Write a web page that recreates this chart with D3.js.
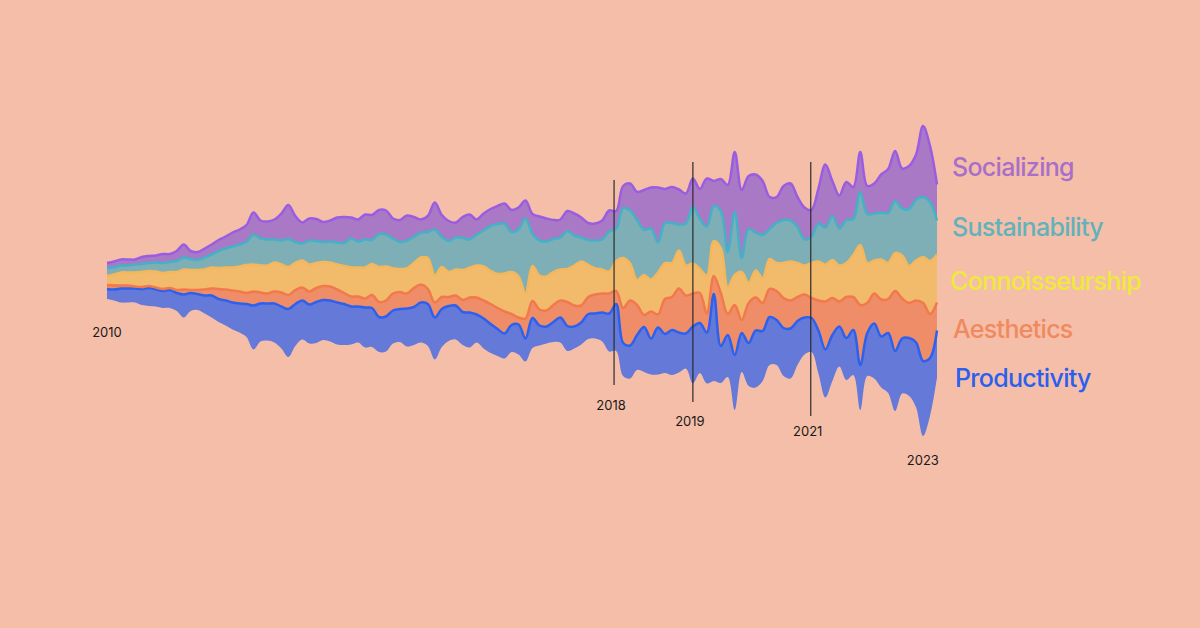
<!DOCTYPE html>
<html>
<head>
<meta charset="utf-8">
<script src="https://cdn.jsdelivr.net/npm/d3@7"></script>
<style>
  html, body { margin: 0; padding: 0; background: #f5bea8; }
  svg { display: block; }
</style>
</head>
<body>
<div id="chart"></div>
<script>
(function() {
	var width = 1200
	var height = 628

	// layer thickness per sample, bottom layer first
	var keys = ["Productivity", "Aesthetics", "Connoisseurship", "Sustainability", "Socializing"]

	var socializing = [5,6,6,6,5,7,7,7,9,8,10,13,8,8,9,10,11,12,14,15,17,22,18,18,20,27,34,26,21,22,
		22,20,21,25,26,21,22,25,25,24,24,20,22,25,20,13,16,27,22,20,15,21,25,15,17,17,18,20,22,22,
		18,20,24,23,19,18,20,22,20,17,17,19,21,18,22,27,28,40,41,55,34,36,35,30,28,30,48,25,32,67,
		60,68,53,58,54,32,26,34,37,30,32,27,35,63,35,33,38,32,40,28,30,38,44,50,40,43,45,71,56,36]
	var sustainability = [8,7,7,7,8,8,8,9,10,10,11,12,11,10,12,13,17,19,21,22,23,30,27,26,23,24,28,21,17,24,
		22,20,21,22,23,29,26,28,24,33,32,30,27,28,26,25,26,46,30,31,32,32,28,31,36,45,50,50,40,47,
		75,32,35,35,33,32,38,30,24,25,28,30,40,32,50,53,60,45,51,30,40,40,26,42,57,50,49,35,37,35,
		63,14,54,38,43,30,40,43,41,36,26,26,38,37,44,37,43,36,53,49,47,47,50,52,47,57,61,60,59,34]
	var connoisseurship = [9,11,13,13,14,15,15,16,16,16,18,20,20,20,20,21,21,22,23,25,28,27,27,28,29,28,28,27,27,27,
		25,24,24,25,27,29,29,31,31,35,34,25,23,25,25,27,31,27,30,25,26,30,30,32,34,33,34,38,42,41,
		25,35,34,34,33,31,33,40,44,32,26,24,22,30,50,37,25,40,32,42,36,34,38,30,30,24,38,35,45,27,
		30,48,20,27,25,30,28,35,39,34,29,35,39,37,38,36,34,42,60,40,33,40,36,38,43,37,40,46,53,48]
	var aesthetics = [4,4,3,3,2,2,2,2,2,2,3,5,3,4,6,7,10,11,12,12,11,14,11,10,12,14,14,14,13,13,
		14,14,14,13,11,10,10,9,13,15,16,17,17,15,19,18,15,15,12,9,10,12,15,17,18,20,21,22,11,7,
		20,17,16,16,17,17,24,21,17,17,19,19,20,13,35,45,30,12,27,13,35,33,44,38,33,30,19,18,53,21,
		50,13,40,33,28,28,29,30,28,24,23,20,30,48,37,25,41,33,60,30,30,37,34,60,40,35,42,58,44,28]
	var productivity = [10,11,14,14,14,16,18,17,17,18,18,23,18,16,18,22,23,25,27,29,33,44,38,37,39,42,48,42,39,39,
		41,40,41,42,41,38,36,40,39,35,35,33,33,38,38,40,42,42,38,35,34,33,35,28,30,29,27,25,27,30,
		23,30,20,17,20,25,25,22,22,25,25,29,38,47,33,33,35,45,36,47,39,45,40,35,57,50,51,87,37,42,
		55,39,43,57,50,48,45,48,50,44,37,34,43,48,46,40,42,45,45,43,55,51,60,60,55,58,65,75,58,47]

	var years = ["2010", "2018", "2019", "2021", "2023"]
	var yearIndex = [0, 72.7, 84, 100.9, 117.4]
	var yearLine = [false, true, true, true, false]

	var colors = {
		Socializing:     { fill: "#aa79c6", line: "#9a5de2", text: "#a86fca" },
		Sustainability:  { fill: "#7eafb6", line: "#43b2c6", text: "#62b2bd" },
		Connoisseurship: { fill: "#f2ba6b", line: "#f5b75c", text: "#eeea3c" },
		Aesthetics:      { fill: "#ee8d67", line: "#f2794c", text: "#ef8a5f" },
		Productivity:    { fill: "#6479d8", line: "#2c61f0", text: "#2a5ff0" }
	}

	var n = socializing.length
	var rows = d3.range(n).map(function(i) {
		return {
			i: i,
			Productivity: productivity[i],
			Aesthetics: aesthetics[i],
			Connoisseurship: connoisseurship[i],
			Sustainability: sustainability[i],
			Socializing: socializing[i]
		}
	})

	var svg = d3.select("#chart")
		.append("svg")
		.attr("width", width)
		.attr("height", height)

	svg.append("rect")
		.attr("width", width)
		.attr("height", height)
		.attr("fill", "#f5bea8")

	var stack = d3.stack()
		.keys(keys)
		.offset(d3.stackOffsetSilhouette)
	var layers = stack(rows)

	var x = d3.scaleLinear()
		.domain([0, n - 1])
		.range([107, 937])

	var y = d3.scaleLinear()
		.domain([-200, 200])
		.range([481, 81])

	var area = d3.area()
		.x(function(d) { return x(d.data.i) })
		.y0(function(d) { return y(d[0]) })
		.y1(function(d) { return y(d[1]) })
		.curve(d3.curveCatmullRom.alpha(0.5))

	var topLine = d3.line()
		.x(function(d) { return x(d.data.i) })
		.y(function(d) { return y(d[1]) })
		.curve(d3.curveCatmullRom.alpha(0.5))

	svg.selectAll(".layer")
		.data(layers)
		.enter().append("path")
		.attr("class", "layer")
		.attr("d", area)
		.attr("fill", function(d) { return colors[d.key].fill })

	svg.selectAll(".edge")
		.data(layers)
		.enter().append("path")
		.attr("class", "edge")
		.attr("d", topLine)
		.attr("fill", "none")
		.attr("stroke", function(d) { return colors[d.key].line })
		.attr("stroke-width", 2.5)
		.attr("stroke-linejoin", "round")

	// year markers: line extent and label baseline
	var markerLayout = [
		{ top: null, bottom: null, label: 337 },
		{ top: 180, bottom: 385, label: 410 },
		{ top: 162, bottom: 402, label: 426 },
		{ top: 162, bottom: 416, label: 436 },
		{ top: null, bottom: null, label: 465 }
	]

	years.forEach(function(yr, k) {
		var xp = x(yearIndex[k])
		if (yearLine[k]) {
			svg.append("line")
				.attr("x1", xp).attr("x2", xp)
				.attr("y1", markerLayout[k].top)
				.attr("y2", markerLayout[k].bottom)
				.attr("stroke", "#2b2b2b")
				.attr("stroke-width", 1.2)
		}
		svg.append("text")
			.attr("x", k == 0 ? xp : xp - 3)
			.attr("y", markerLayout[k].label)
			.attr("text-anchor", "middle")
			.attr("font-family", "Inter, 'Noto Sans', sans-serif")
			.attr("font-size", 13)
			.attr("fill", "#1a1a1a")
			.text(yr)
	})

	// legend on the right
	var legendY = { Socializing: 176, Sustainability: 236, Connoisseurship: 290, Aesthetics: 338, Productivity: 387 }
	var legendX = { Socializing: 952, Sustainability: 952, Connoisseurship: 950, Aesthetics: 953, Productivity: 955 }

	keys.slice().reverse().forEach(function(key) {
		svg.append("text")
			.attr("x", legendX[key])
			.attr("y", legendY[key])
			.attr("font-family", "Inter, 'Noto Sans', sans-serif")
			.attr("font-size", 25)
			.attr("font-weight", 500)
			.attr("letter-spacing", -0.7)
			.attr("fill", colors[key].text)
			.text(key)
	})
})();
</script>
</body>
</html>
